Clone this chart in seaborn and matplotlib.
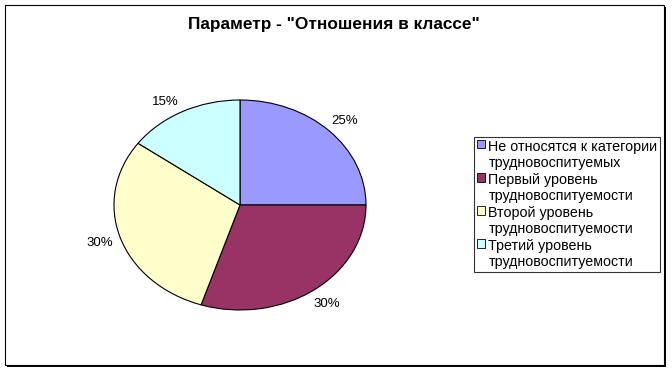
import matplotlib
matplotlib.use("Agg")
import matplotlib.pyplot as plt
import seaborn as sns
from matplotlib.patches import Rectangle

categories = ["Не относятся к категории\nтрудновоспитуемых",
              "Первый уровень\nтрудновоспитуемости",
              "Второй уровень\nтрудновоспитуемости",
              "Третий уровень\nтрудновоспитуемости"]
values = [25, 30, 30, 15]
colors = ["#9999FF", "#993366", "#FFFFCC", "#CCFFFF"]
title = 'Параметр - "Отношения в классе"'

sns.set_theme(style="white")
plt.rcParams['font.family'] = ['Liberation Sans', 'DejaVu Sans']
plt.rcParams['text.color'] = 'black'

W, H = 672, 372
fig = plt.figure(figsize=(W / 100, H / 100), dpi=100)
fig.patch.set_facecolor("white")

# outer frame with shadow
fig.patches.append(Rectangle((7 / W, 1 - 367 / H), 659 / W, 360 / H, transform=fig.transFigure,
                             facecolor="#000000", edgecolor="none", zorder=0))
fig.patches.append(Rectangle((5 / W, 1 - 365 / H), 659 / W, 360 / H, transform=fig.transFigure,
                             facecolor="white", edgecolor="black", lw=0.8, zorder=0.5))

cx, cy, rx, ry = 240, 205, 126, 105
ax = fig.add_axes([(cx - rx) / W, (H - cy - ry) / H, 2 * rx / W, 2 * ry / H])
ax.set_zorder(2)
ax.patch.set_visible(False)
wedges, texts, autotexts = ax.pie(values, colors=colors, startangle=90, counterclock=False,
                                  autopct="%1.0f%%", pctdistance=1.17,
                                  wedgeprops=dict(edgecolor="black", linewidth=0.8),
                                  textprops=dict(fontsize=9.5, color="black"))
ax.set_aspect("auto")
ax.set_xlim(-1, 1)
ax.set_ylim(-1, 1)
ax.axis("off")
for t in autotexts:
    t.set_clip_on(False)
# small nudges to mimic the original label placement
x, y = autotexts[3].get_position()
autotexts[3].set_position((x - 0.06, y - 0.06))
x, y = autotexts[0].get_position()
autotexts[0].set_position((x, y - 0.03))

t = fig.text(334 / W, 1 - 25 / H, title, ha="center", va="center", fontsize=12.4,
             fontweight="bold", color="black")
t.set_zorder(3)

leg = fig.legend(wedges, categories, loc="upper left", bbox_to_anchor=(474 / W, 1 - 137 / H),
                 frameon=True, fancybox=False, fontsize=10.3, handlelength=0.55, handleheight=0.55,
                 handletextpad=0.25, labelspacing=0.2, borderpad=0.2, borderaxespad=0)
leg.set_zorder(3)
leg.get_frame().set_edgecolor("black")
leg.get_frame().set_linewidth(0.8)
for h in leg.legend_handles:
    h.set_edgecolor("black")
    h.set_linewidth(0.6)
for tx in leg.get_texts():
    tx.set_color("black")
for col in leg._legend_handle_box.get_children():
    for row in col.get_children():
        row.align = "top"

fig.savefig("out.png", dpi=100)
